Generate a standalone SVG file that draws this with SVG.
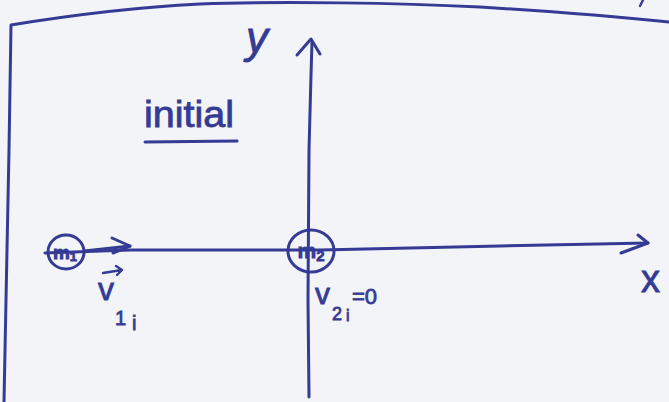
<svg xmlns="http://www.w3.org/2000/svg" width="669" height="402" viewBox="0 0 669 402">
<defs>
<style>
.ink{fill:none;stroke:#353b94;stroke-width:3;stroke-linecap:round;stroke-linejoin:round}
.thin{fill:none;stroke:#353b94;stroke-width:2.4;stroke-linecap:round;stroke-linejoin:round}
.t{fill:#353b94;stroke:#353b94;stroke-width:0.8;font-family:"Liberation Sans","DejaVu Sans",sans-serif}
</style>
</defs>
<rect width="669" height="402" fill="#f2f4f8"/>
<g id="frame">
<path class="ink" d="M4,402 L6,300 L9,150 L11,25 C60,17 120,8 200,4 C280,1 400,3 480,7 C560,12 620,17 669,22"/>
<path class="thin" d="M640,6 L643,0"/>
</g>
<g id="connectors">
<path id="x-axis" class="ink" d="M45,253 L130,250 L320,250 L500,246 L648,243"/>
<path class="ink" d="M638,235 L648,243 L621,253"/>
<path id="y-axis" class="ink" d="M309,397 L308,300 L309,150 L311,75 L312,42"/>
<path class="ink" d="M297,55 L311,39 L320,54"/>
<path id="v1-arrow" class="ink" d="M84,251 L130,246"/>
<path class="ink" d="M112,238 L130,246 L113,253"/>
</g>
<g id="m1">
<ellipse class="ink" cx="66" cy="252" rx="18" ry="17"/>
<text class="t" x="65" y="259" font-size="19" font-weight="bold" text-anchor="middle">m<tspan font-size="13" dy="2">1</tspan></text>
</g>
<g id="m2">
<ellipse class="ink" cx="311" cy="251" rx="23" ry="21"/>
<text class="t" x="311" y="258" font-size="21" font-weight="bold" text-anchor="middle">m<tspan font-size="15" dy="3">2</tspan></text>
</g>
<g id="labels">
<text class="t" x="246" y="53" font-size="44" font-style="italic">y</text>
<text class="t" x="641" y="292" font-size="38">x</text>
<text class="t" x="144" y="127" font-size="36" textLength="90" lengthAdjust="spacingAndGlyphs">initial</text>
<path class="ink" d="M145,142 L237,141"/>
<text class="t" x="98" y="300" font-size="32">v</text>
<path class="thin" d="M103,273 L122,270 M116,266 L122,270 L117,275"/>
<text class="t" x="115" y="325" font-size="20">1</text>
<text class="t" x="132" y="330" font-size="20">i</text>
<text class="t" x="315" y="304" font-size="30">v</text>
<text class="t" x="332" y="320" font-size="18">2</text>
<text class="t" x="346" y="321" font-size="16">i</text>
<text class="t" x="352" y="304" font-size="22">=0</text>
</g>
</svg>
